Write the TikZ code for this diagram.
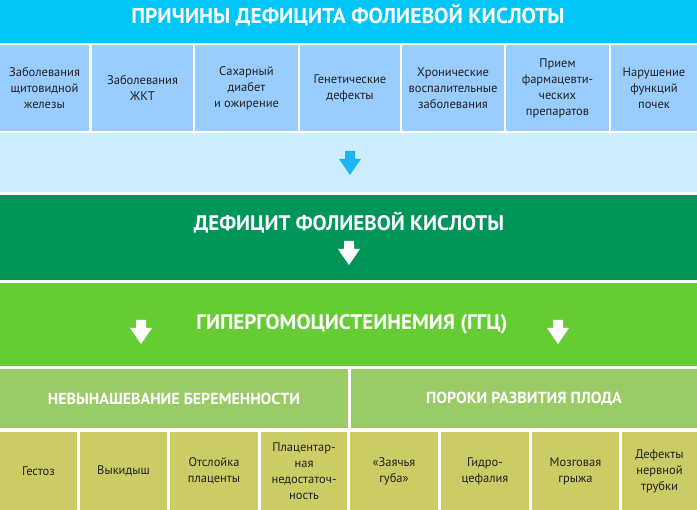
\documentclass[tikz,border=0pt]{standalone}
\usepackage{fontspec}
\setmainfont{PT Sans}
\usepackage{tikz}

\definecolor{topcyan}{RGB}{0,198,248}
\definecolor{boxblue}{RGB}{153,204,255}
\definecolor{paleblue}{RGB}{204,238,255}
\definecolor{arrblue}{RGB}{30,182,242}
\definecolor{darkgreen}{RGB}{0,150,90}
\definecolor{brightgreen}{RGB}{102,204,51}
\definecolor{hdgreen}{RGB}{153,204,102}
\definecolor{khaki}{RGB}{204,204,102}
\definecolor{boxtext}{RGB}{34,34,34}

\tikzset{
  box/.style={inner sep=0pt, outer sep=0pt, align=center, text=boxtext,
    font=\fontsize{12.5}{16}\selectfont},
  heading/.style={inner sep=0pt, text=white, font=\bfseries\fontsize{21}{24}\selectfont},
  dnarrow/.pic={\fill[#1] (-5,0) -- (5,0) -- (5,8) -- (11,8) -- (0,24) -- (-11,8) -- (-5,8) -- cycle;}
}

\begin{document}
\begin{tikzpicture}[x=1pt, y=-1pt]
  \fill[white] (0,0) rectangle (697,510);
  %Bands
  \fill[topcyan] (0,0) rectangle (697,43);
  \fill[paleblue] (0,133) rectangle (697,192);
  \fill[darkgreen] (0,195) rectangle (697,280);
  \fill[brightgreen] (0,283) rectangle (697,366);

  \node[heading, font=\bfseries\fontsize{21.5}{24}\selectfont] (causes) at (348,15) {ПРИЧИНЫ ДЕФИЦИТА ФОЛИЕВОЙ КИСЛОТЫ};
  \node[heading] (deficit) at (349,223) {ДЕФИЦИТ ФОЛИЕВОЙ КИСЛОТЫ};
  \node[heading] (hhc) at (352,324) {ГИПЕРГОМОЦИСТЕИНЕМИЯ (ГГЦ)};

    %Causes
    \foreach \xa/\xb/\txt [count=\i] in {0/89/{Заболевания\\щитовидной\\железы},
        92/193/{Заболевания\\ЖКТ}, 195/298/{Сахарный\\диабет\\и ожирение},
        300/400/{Генетические\\дефекты}, 402/504/{Хронические\\воспалительные\\заболевания},
        506/609/{Прием\\фармацевти-\\ческих\\препаратов}, 611/697/{Нарушение\\функций\\почек}}
      \node[box, fill=boxblue, minimum width=\xb pt-\xa pt, minimum height=86pt] (c\i) at ({(\xa+\xb)/2},88) {\txt};

    %Consequences
    \node[box, fill=hdgreen, minimum width=348pt, minimum height=59pt, text=white,
      font=\bfseries\fontsize{16}{18}\selectfont] (h1) at (174,398.5) {НЕВЫНАШЕВАНИЕ БЕРЕМЕННОСТИ};
    \node[box, fill=hdgreen, minimum width=346pt, minimum height=59pt, text=white,
      font=\bfseries\fontsize{16}{18}\selectfont] (h2) at (524,398.5) {ПОРОКИ РАЗВИТИЯ ПЛОДА};

    \foreach \xa/\xb/\txt [count=\i] in {0/77/{Гестоз}, 80/167/{Выкидыш},
        170/258/{Отслойка\\плаценты}, 261/347/{Плацентар-\\ная\\недостаточ-\\ность},
        350/438/{«Заячья\\губа»}, 441/529/{Гидро-\\цефалия}, 532/619/{Мозговая\\грыжа},
        622/697/{Дефекты\\нервной\\трубки}}
      \node[box, fill=khaki, minimum width=\xb pt-\xa pt, minimum height=78pt] (e\i) at ({(\xa+\xb)/2},471) {\txt};

  %Arrows
  \pic (a1) at (350,151) {dnarrow=arrblue};
  \pic (a2) at (349,241) {dnarrow=white};
  \pic (a3) at (141,320) {dnarrow=white};
  \pic (a4) at (558,320) {dnarrow=white};
\end{tikzpicture}
\end{document}
